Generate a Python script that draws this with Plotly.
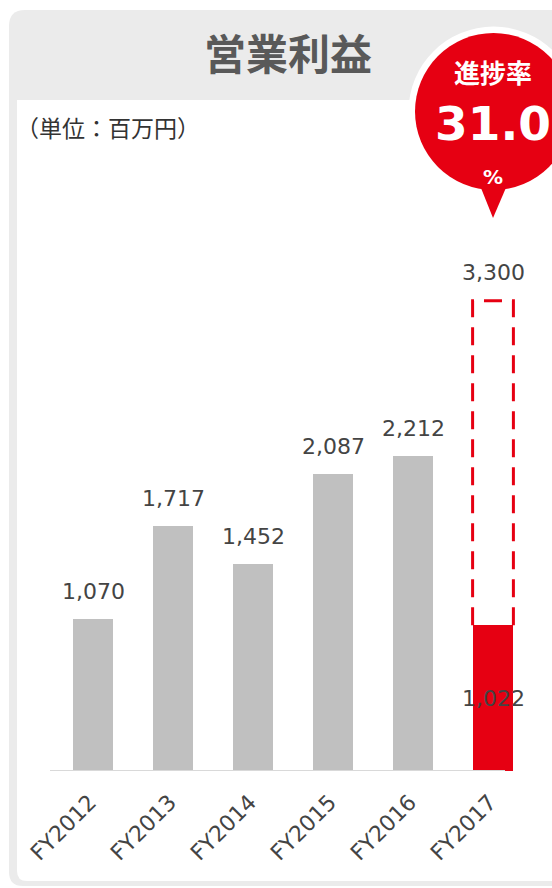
import plotly.graph_objects as go

# ---- data ----
categories = ["FY2012", "FY2013", "FY2014", "FY2015", "FY2016", "FY2017"]
values = [1070, 1717, 1452, 2087, 2212, 1022]
target_value = 3300          # FY2017 plan
progress_rate = "31.0"
title_text = "営業利益"
unit_text = "（単位：百万円）"
bubble_label = "進捗率"

# ---- style ----
GREY_BAR = "#c0c0c0"
RED = "#e60012"
TEXT = "#444444"
CARD = "#ebebeb"
W, H = 552, 888
X_MIN, X_MAX = -0.5375, 5.3
UNIT_PX = 80
L, B, T = 50, 117, 258
PW = int(round(UNIT_PX * (X_MAX - X_MIN)))
R = W - L - PW
PH = H - T - B
JP = "Noto Sans CJK JP"
NUM = "DejaVu Sans"


def px(x):
    return (x - L) / PW


def py(y):
    return (H - B - y) / PH


xs = list(range(len(categories)))
bar_w = 0.51
colors = [GREY_BAR] * (len(values) - 1) + [RED]

fig = go.Figure()
fig.add_trace(go.Bar(
    x=xs, y=values, width=bar_w, marker=dict(color=colors, line=dict(width=0)),
    hoverinfo="skip", showlegend=False,
))
last = xs[-1]
fig.add_trace(go.Scatter(
    x=[last - bar_w / 2, last - bar_w / 2, last + bar_w / 2, last + bar_w / 2],
    y=[values[-1], target_value, target_value, values[-1]],
    mode="lines", line=dict(color=RED, width=3, dash="18px,10px"),
    hoverinfo="skip", showlegend=False, cliponaxis=False,
))

annotations = []
for i, v in enumerate(values[:-1]):
    annotations.append(dict(x=xs[i], y=v, xref="x", yref="y", text=f"{v:,}",
                            showarrow=False, yanchor="bottom", yshift=13,
                            font=dict(family=NUM, size=22, color=TEXT)))
annotations.append(dict(x=last, y=target_value, xref="x", yref="y", text=f"{target_value:,}",
                        showarrow=False, yanchor="bottom", yshift=14,
                        font=dict(family=NUM, size=22, color=TEXT)))
annotations.append(dict(x=last, y=values[-1] / 2, xref="x", yref="y", text=f"{values[-1]:,}",
                        showarrow=False, yanchor="middle",
                        font=dict(family=NUM, size=22, color=TEXT)))

# header texts
annotations.append(dict(x=px(288), y=py(52), xref="paper", yref="paper", text=f"<b>{title_text}</b>",
                        showarrow=False, xanchor="center", yanchor="middle",
                        font=dict(family=JP, size=42, color="#595959")))
annotations.append(dict(x=px(14), y=py(127), xref="paper", yref="paper", text=unit_text,
                        showarrow=False, xanchor="left", yanchor="middle",
                        font=dict(family=JP, size=23, color="#333333")))
# bubble texts
annotations.append(dict(x=px(493), y=py(72), xref="paper", yref="paper", text=f"<b>{bubble_label}</b>",
                        showarrow=False, xanchor="center", yanchor="middle",
                        font=dict(family=JP, size=26, color="white")))
annotations.append(dict(x=px(493), y=py(124), xref="paper", yref="paper", text=f"<b>{progress_rate}</b>",
                        showarrow=False, xanchor="center", yanchor="middle",
                        font=dict(family=NUM, size=47, color="white")))
annotations.append(dict(x=px(493), y=py(177), xref="paper", yref="paper", text="<b>%</b>",
                        showarrow=False, xanchor="center", yanchor="middle",
                        font=dict(family=NUM, size=20, color="white")))


def rounded_path(x0, y0, x1, y1, r_tl, r_bl):
    # pixel coords, y downwards; right side extends past the page
    rxt, ryt = r_tl / PW, r_tl / PH
    rxb, ryb = r_bl / PW, r_bl / PH
    X0, X1 = px(x0), px(x1)
    Y0, Y1 = py(y0), py(y1)  # Y0 top (larger), Y1 bottom
    return (f"M {X0 + rxt},{Y0} L {X1},{Y0} L {X1},{Y1} L {X0 + rxb},{Y1} "
            f"Q {X0},{Y1} {X0},{Y1 + ryb} L {X0},{Y0 - ryt} Q {X0},{Y0} {X0 + rxt},{Y0} Z")


shapes = [
    dict(type="path", xref="paper", yref="paper", path=rounded_path(9, 10, 570, 886, 16, 14),
         fillcolor=CARD, line=dict(width=0), layer="below"),
    dict(type="path", xref="paper", yref="paper", path=rounded_path(17, 100, 570, 881, 0, 10),
         fillcolor="white", line=dict(width=0), layer="below"),
    # baseline (axis line), shorter than the plot area on the right like the reference
    dict(type="line", xref="paper", yref="y", x0=px(50), x1=px(505), y0=0, y1=0,
         line=dict(color="#d9d9d9", width=2), layer="above"),
    # bubble
    dict(type="circle", xref="paper", yref="paper",
         x0=px(493.5 - 85), x1=px(493.5 + 85), y0=py(111.5 + 85), y1=py(111.5 - 85),
         fillcolor="white", line=dict(width=0), layer="above"),
    dict(type="path", xref="paper", yref="paper",
         path=f"M {px(479)},{py(183)} L {px(508)},{py(183)} L {px(493)},{py(218)} Z",
         fillcolor=RED, line=dict(width=0), layer="above"),
    dict(type="circle", xref="paper", yref="paper",
         x0=px(493.5 - 78.5), x1=px(493.5 + 78.5), y0=py(111.5 + 78.5), y1=py(111.5 - 78.5),
         fillcolor=RED, line=dict(width=0), layer="above"),
]

fig.update_layout(
    width=W, height=H, margin=dict(l=L, r=R, t=T, b=B, pad=0),
    paper_bgcolor="white", plot_bgcolor="rgba(0,0,0,0)",
    shapes=shapes, annotations=annotations, showlegend=False,
    bargap=0,
    xaxis=dict(range=[X_MIN, X_MAX], tickvals=xs, ticktext=categories, tickangle=-45,
               showline=False, showgrid=False, zeroline=False, ticks="",
               ticklabelstandoff=13, ticklabelshift=-3,
               tickfont=dict(family=NUM, size=22, color=TEXT), fixedrange=True),
    yaxis=dict(range=[0, 3600], visible=False, showgrid=False, zeroline=False, fixedrange=True),
)

fig.write_html(
    "out.html",
    config={"displayModeBar": False},
    post_script="document.body.style.margin='0';document.body.style.overflow='hidden';",
)
